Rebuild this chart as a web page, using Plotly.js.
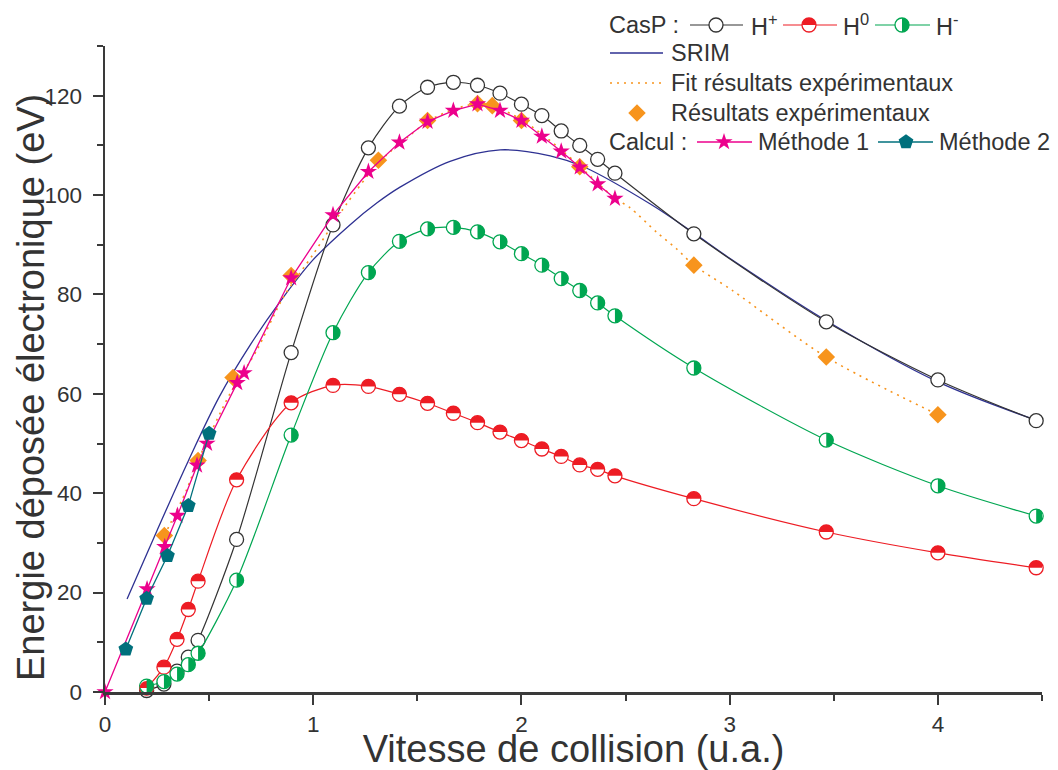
<!DOCTYPE html>
<html><head><meta charset="utf-8">
<script src="https://cdn.plot.ly/plotly-3.0.1.min.js"></script>
<style>html,body{margin:0;padding:0;background:#fff}#chart{width:1058px;height:770px}</style>
</head><body><div id="chart"></div>
<script>
// ---------- data ----------
const vCasP   = [0.2,0.283,0.346,0.4,0.447,0.632,0.894,1.095,1.265,1.414,1.549,1.673,1.789,1.897,2.0,2.098,2.191,2.28,2.366,2.449,2.828,3.464,4.0,4.472];
const eHplus  = [0.3,1.6,4.2,7.0,10.4,30.7,68.3,94.0,109.5,117.9,121.7,122.7,122.1,120.5,118.3,116.0,112.9,110.0,107.2,104.4,92.2,74.5,62.8,54.6];
const eH0     = [0.8,5.0,10.6,16.6,22.3,42.7,58.2,61.7,61.5,59.9,58.1,56.1,54.2,52.3,50.6,48.9,47.4,45.7,44.8,43.5,38.9,32.2,28.0,25.0];
const eHminus = [1.2,2.1,3.6,5.5,7.8,22.5,51.7,72.3,84.4,90.7,93.2,93.5,92.6,90.6,88.2,85.9,83.2,80.8,78.3,75.7,65.2,50.7,41.5,35.4];

const vSRIM = [0.106,0.25,0.4,0.55,0.7,0.84,1.0,1.176,1.305,1.417,1.657,1.898,2.138,2.298,2.619,2.826,3.0,3.465,4.0,4.5];
const eSRIM = [18.7,32.5,46.5,59.5,70.0,78.5,87.0,94.0,98.4,101.6,106.8,109.1,107.9,105.7,98.2,92.4,87.3,74.7,62.4,54.3];

const vFit = [0.285,0.39,0.447,0.6,0.728,0.856,1.0,1.16,1.313,1.45,1.549,1.67,1.789,1.86,2.0,2.1,2.2,2.28,2.37,2.45,2.52,2.65,2.747,2.828,3.01,3.464,4.0];
const eFit = [31.5,40.5,46.6,60.0,68.7,79.4,88.1,98.2,106.5,111.5,114.8,117.2,118.4,118.0,115.2,112.2,108.8,105.8,102.3,99.3,97.5,92.5,89.1,85.9,80.9,67.4,55.8];

const vExp = [0.285,0.447,0.615,0.894,1.313,1.549,1.789,1.86,2.0,2.28,2.828,3.464,4.0];
const eExp = [31.5,46.6,63.3,83.8,107.0,115.0,118.4,118.0,115.0,105.7,85.9,67.4,55.8];

const vM1 = [0,0.202,0.287,0.348,0.442,0.49,0.635,0.668,0.894,1.095,1.265,1.414,1.549,1.673,1.789,1.897,2.0,2.098,2.191,2.28,2.366,2.449];
const eM1 = [0,20.7,29.2,35.5,45.6,50.0,62.2,64.2,83.3,96.0,104.7,110.6,114.8,117.0,118.3,117.0,115.0,111.8,108.8,105.6,102.2,99.3];

const vM2 = [0.1,0.2,0.3,0.4,0.5];
const eM2 = [8.6,18.8,27.4,37.5,52.0];

const xTickVals = [0,1,2,3,4];
const yTickVals = [0,20,40,60,80,100,120];

const legendNames = {hp:'H<sup>+</sup>', h0:'H<sup>0</sup>', hm:'H<sup>-</sup>', srim:'SRIM',
  fit:'Fit résultats expérimentaux', exp:'Résultats expérimentaux', m1:'Méthode 1', m2:'Méthode 2',
  casp:'CasP :', calc:'Calcul :'};

// ---------- styles ----------
const FONT = 'Liberation Sans, Arial, Helvetica, sans-serif';
const TXT = '#333333';
const C = {hp:'#333333', h0:'#ed1c24', hm:'#00a651', srim:'#2e3192', fit:'#f7941d', exp:'#f7941d', m1:'#ec008c', m2:'#00707c'};
const ML = {l:105, r:16, t:46, b:78};
const W = 1058, H = 770;
const PW = W - ML.l - ML.r, PH = H - ML.t - ML.b;
const px2x = p => (p - ML.l) / PW;
const py2y = p => (H - ML.b - p) / PH;
const CIRC = 14;            // circle marker diameter
const R = CIRC / 2, K = 0.5523 * R;
const topHalf = `M ${-R},0 C ${-R},${K} ${-K},${R} 0,${R} C ${K},${R} ${R},${K} ${R},0 Z`;
const rightHalf = `M 0,${R} C ${K},${R} ${R},${K} ${R},0 C ${R},${-K} ${K},${-R} 0,${-R} Z`;
const STAR = 13, DIAM = 13.5, PENT = 15.5;
const LEGSIZE = 23.5, TITLESIZE = 38, TICKSIZE = 22.5;

const circ = (col) => ({symbol:'circle', size:CIRC, color:'#ffffff', line:{color:col, width:1.3}});
const traces = [
  {x:vSRIM, y:eSRIM, mode:'lines', name:legendNames.srim, line:{color:C.srim, width:1.3, shape:'spline', smoothing:1}},
  {x:vFit, y:eFit, mode:'lines', name:legendNames.fit, line:{color:C.fit, width:1.6, dash:'2px,5px', shape:'spline', smoothing:0.8}},
  {x:vCasP, y:eHplus, mode:'lines+markers', name:legendNames.hp, line:{color:C.hp, width:1.2, shape:'spline', smoothing:0.8}, marker:circ(C.hp), cliponaxis:false},
  {x:vCasP, y:eH0, mode:'lines+markers', name:legendNames.h0, line:{color:C.h0, width:1.2, shape:'spline', smoothing:0.8}, marker:circ(C.h0), cliponaxis:false},
  {x:vCasP, y:eHminus, mode:'lines+markers', name:legendNames.hm, line:{color:C.hm, width:1.2, shape:'spline', smoothing:0.8}, marker:circ(C.hm), cliponaxis:false},
  {x:vExp, y:eExp, mode:'markers', name:legendNames.exp, marker:{symbol:'diamond', size:DIAM, color:C.exp}, cliponaxis:false},
  {x:vM1, y:eM1, mode:'lines+markers', name:legendNames.m1, line:{color:C.m1, width:1.3}, marker:{symbol:'star', size:STAR, color:C.m1}, cliponaxis:false},
  {x:vM2, y:eM2, mode:'lines+markers', name:legendNames.m2, line:{color:C.m2, width:1.3}, marker:{symbol:'pentagon', size:PENT, color:C.m2}, cliponaxis:false}
];
traces.forEach(t => t.showlegend = false);

// ---------- hand-built legend (layout positions in page pixels) ----------
const polyPath = (n, rOut, rIn) => {
  const pts = [];
  const step = Math.PI / n;
  for (let k = 0; k < 2 * n; k++) {
    if (rIn === null && k % 2 === 1) continue;
    const r = (rIn === null) ? rOut : (k % 2 === 0 ? rOut : rIn);
    const a = Math.PI / 2 - k * step;
    pts.push(`${(r * Math.cos(a)).toFixed(2)},${(r * Math.sin(a)).toFixed(2)}`);
  }
  return 'M ' + pts.join(' L ') + ' Z';
};
const glyph = {
  diamond: `M ${-DIAM*0.65},0 L 0,${DIAM*0.65} L ${DIAM*0.65},0 L 0,${-DIAM*0.65} Z`,
  star: polyPath(5, STAR * 0.7, STAR * 0.7 * 0.382),
  pentagon: polyPath(5, PENT / 2, null)
};
const LG = {
  rows:{r1:25, r2:53, r3:83, r4:113, r5:142},
  circles:[
    {px:716, row:'r1', col:C.hp, half:null},
    {px:809, row:'r1', col:C.h0, half:topHalf},
    {px:902, row:'r1', col:C.hm, half:rightHalf}
  ],
  marks:[
    {px:637, row:'r4', g:'diamond', col:C.exp},
    {px:724, row:'r5', g:'star', col:C.m1},
    {px:906, row:'r5', g:'pentagon', col:C.m2}
  ],
  segs:[
    {a:690, b:743, row:'r1', col:C.hp, dash:'solid', w:1.2},
    {a:783, b:837, row:'r1', col:C.h0, dash:'solid', w:1.2},
    {a:875, b:930, row:'r1', col:C.hm, dash:'solid', w:1.2},
    {a:610, b:663, row:'r2', col:C.srim, dash:'solid', w:1.3},
    {a:610, b:661, row:'r3', col:C.fit, dash:'2px,5px', w:1.6},
    {a:697, b:752, row:'r5', col:C.m1, dash:'solid', w:1.3},
    {a:878, b:933, row:'r5', col:C.m2, dash:'solid', w:1.3}
  ],
  texts:[
    {px:607, row:'r1', t:legendNames.casp},
    {px:749, row:'r1', t:legendNames.hp},
    {px:841, row:'r1', t:legendNames.h0},
    {px:934, row:'r1', t:legendNames.hm},
    {px:669, row:'r2', t:legendNames.srim},
    {px:669, row:'r3', t:legendNames.fit},
    {px:669, row:'r4', t:legendNames.exp},
    {px:607, row:'r5', t:legendNames.calc},
    {px:756, row:'r5', t:legendNames.m1},
    {px:937, row:'r5', t:legendNames.m2}
  ]
};

const shapes = [];
LG.segs.forEach(s => shapes.push({type:'line', xref:'paper', yref:'paper', layer:'above',
  x0:px2x(s.a), x1:px2x(s.b), y0:py2y(LG.rows[s.row]), y1:py2y(LG.rows[s.row]),
  line:{color:s.col, width:s.w, dash:s.dash}}));
const pix = (px, row) => ({xref:'paper', yref:'paper', xsizemode:'pixel', ysizemode:'pixel',
  xanchor:px2x(px), yanchor:py2y(LG.rows[row]), layer:'above'});
LG.circles.forEach(c => {
  shapes.push(Object.assign(pix(c.px, c.row), {type:'circle', x0:-R, x1:R, y0:-R, y1:R,
    fillcolor:'#ffffff', line:{color:c.col, width:1.3}}));
  if (c.half) shapes.push(Object.assign(pix(c.px, c.row), {type:'path', path:c.half, fillcolor:c.col, line:{width:0}}));
});
LG.marks.forEach(m => shapes.push(Object.assign(pix(m.px, m.row), {type:'path', path:glyph[m.g],
  fillcolor:m.col, line:{width:0}})));

// half-filled markers (data)
vCasP.forEach((v, i) => {
  shapes.push({type:'path', xref:'x', yref:'y', xsizemode:'pixel', ysizemode:'pixel', xanchor:v, yanchor:eH0[i],
    path:topHalf, fillcolor:C.h0, line:{width:0}, layer:'above'});
  shapes.push({type:'path', xref:'x', yref:'y', xsizemode:'pixel', ysizemode:'pixel', xanchor:v, yanchor:eHminus[i],
    path:rightHalf, fillcolor:C.hm, line:{width:0}, layer:'above'});
});

const annotations = LG.texts.map(a => ({xref:'paper', yref:'paper', x:px2x(a.px), y:py2y(LG.rows[a.row]),
  xanchor:'left', yanchor:'middle', showarrow:false, text:a.t, font:{family:FONT, size:LEGSIZE, color:TXT}}));
annotations.push({xref:'paper', yref:'paper', x:px2x(31), y:py2y(388), xanchor:'center', yanchor:'middle',
  textangle:-90, showarrow:false, text:'Energie déposée électronique (eV)', font:{family:FONT, size:TITLESIZE, color:TXT}});

const axisCommon = {showgrid:false, zeroline:false, showline:true, linewidth:2.5, linecolor:'#3a3a3a',
  ticks:'outside', ticklen:10, tickwidth:2, tickcolor:'#3a3a3a',
  tickfont:{family:FONT, size:TICKSIZE, color:TXT}, fixedrange:true};

const layout = {
  width:W, height:H, margin:ML, paper_bgcolor:'#ffffff', plot_bgcolor:'#ffffff',
  showlegend:false, font:{family:FONT, color:TXT},
  xaxis:Object.assign({}, axisCommon, {range:[0,4.5], tickvals:xTickVals, ticktext:xTickVals.map(String),
    minor:{dtick:0.5, tick0:0, ticks:'outside', ticklen:6, tickwidth:2, tickcolor:'#3a3a3a'},
    ticklabelstandoff:0,
    title:{text:'Vitesse de collision (u.a.)', font:{family:FONT, size:TITLESIZE, color:TXT}, standoff:6}}),
  yaxis:Object.assign({}, axisCommon, {range:[0,130], tickvals:yTickVals, ticktext:yTickVals.map(String),
    minor:{dtick:10, tick0:0, ticks:'outside', ticklen:6, tickwidth:2, tickcolor:'#3a3a3a'},
    ticklabelstandoff:6}),
  shapes:shapes, annotations:annotations
};

Plotly.newPlot('chart', traces, layout, {staticPlot:true, displayModeBar:false});
</script>
</body></html>
